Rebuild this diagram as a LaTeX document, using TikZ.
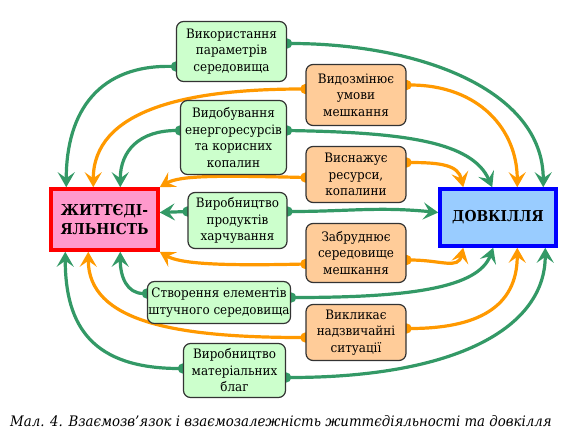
\documentclass[tikz,border=0pt]{standalone}
\usepackage{fontspec}
\setmainfont{DejaVu Serif}[FakeStretch=0.92]
\usetikzlibrary{arrows.meta,calc,backgrounds}
\definecolor{lnkgreen}{HTML}{339966}
\definecolor{lnkorange}{HTML}{FF9900}
\definecolor{boxgreen}{HTML}{CCFFCC}
\definecolor{boxorange}{HTML}{FFCC99}
\definecolor{lifepink}{HTML}{FF99CC}
\definecolor{envblue}{HTML}{99CCFF}
\tikzset{
  sbox/.style    = {draw=black!80, line width=1.2pt, rounded corners=7pt, align=center,
                    font=\fontsize{13}{16.5}\selectfont, inner sep=1pt},
  gbox/.style    = {sbox, fill=boxgreen},
  obox/.style    = {sbox, fill=boxorange, minimum width=100pt},
  mainbox/.style = {line width=3.5pt, align=center, font=\fontsize{15}{19}\selectfont\bfseries},
  link/.style    = {line width=3.2pt, shorten <=-5pt,
                    {Circle[length=10pt]}-{Stealth[length=15pt,width=17pt,inset=6pt]}},
  glink/.style   = {link, lnkgreen},
  olink/.style   = {link, lnkorange},
}
\begin{document}
\begin{tikzpicture}[x=1pt,y=-1pt]
  \useasboundingbox (0,0) rectangle (582,440);
  % the two main blocks
  \node[mainbox, draw=red, fill=lifepink, minimum width=107pt, minimum height=61pt]
    (life) at (104.5,219.5) {ЖИТТЄДІ-\\ЯЛЬНІСТЬ};
  \node[mainbox, draw=blue, fill=envblue, minimum width=116pt, minimum height=57pt]
    (env) at (498,217.5) {ДОВКІЛЛЯ};
  % green: what people do
  \node[gbox, minimum width=110pt, minimum height=60pt] (use)   at (231.5,51.5)  {Використання\\параметрів\\середовища};
  \node[gbox, minimum width=106pt, minimum height=74pt] (mine)  at (233.5,137.5) {Видобування\\енергоресурсів\\та корисних\\копалин};
  \node[gbox, minimum width=99pt,  minimum height=56pt] (food)  at (237.5,220.5) {Виробництво\\продуктів\\харчування};
  \node[gbox, minimum width=141pt, minimum height=42pt] (build) at (219,302.5)   {Створення елементів\\штучного середовища};
  \node[gbox, minimum width=102pt, minimum height=54pt] (goods) at (234.5,370.5) {Виробництво\\матеріальних\\благ};
  % orange: what it causes
  \node[obox, minimum height=61pt] (modify)  at (356,95)    {Видозмінює\\умови\\мешкання};
  \node[obox, minimum height=56pt] (deplete) at (356,174.5) {Виснажує\\ресурси,\\копалини};
  \node[obox, minimum height=59pt] (pollute) at (356,253)   {Забруднює\\середовище\\мешкання};
  \node[obox, minimum height=56pt] (emerg)   at (356,332.5) {Викликає\\надзвичайні\\ситуації};
  % links
  \begin{scope}[on background layer]
    \draw[glink] ($(use.west)+(0,15)$) .. controls +(-76,-2) and +(0,-77) .. ($(life.north west)+(17,0)$);
    \draw[glink] ($(use.east)+(0,-8)$) .. controls +(133,0) and +(0,-97) .. ($(env.north west)+(105,0)$);
    \draw[olink] ($(modify.west)+(0,-6)$) .. controls +(-120,0) and +(0,-77) .. ($(life.north west)+(44,0)$);
    \draw[olink] ($(modify.east)+(0,-10)$) .. controls +(73,0) and +(0,-57) .. ($(env.north west)+(79,0)$);
    \draw[glink] ($(mine.west)+(0,-7)$) .. controls +(-40,0) and +(0,-37) .. ($(life.north west)+(71,0)$);
    \draw[glink] ($(mine.east)+(0,-7)$) .. controls +(120,2) and +(-20,-45) .. ($(env.north west)+(54,0)$);
    \draw[olink] ($(deplete.west)+(0,3)$) .. controls +(-85,-2) and +(20,-12) .. (life.north east);
    \draw[olink] ($(deplete.east)+(0,-12)$) .. controls +(35,0) and +(-5,-22) .. ($(env.north west)+(25,0)$);
    \draw[glink] ($(food.west)+(0,-9)$) -- ($(life.east)+(0,-7)$);
    \draw[glink] ($(food.east)+(0,-9)$) .. controls +(60,0) and +(-60,-6) .. ($(env.west)+(0,-5)$);
    \draw[olink] ($(pollute.west)+(0,11)$) .. controls +(-85,2) and +(20,12) .. (life.south east);
    \draw[olink] ($(pollute.east)+(0,7)$) .. controls +(35,0) and +(-5,22) .. ($(env.south west)+(25,0)$);
    \draw[glink] ($(build.west)+(0,-9)$) .. controls +(-20,0) and +(0,25) .. ($(life.south west)+(71,0)$);
    \draw[glink] ($(build.east)+(0,-5)$) .. controls +(120,0) and +(-15,40) .. ($(env.south west)+(55,0)$);
    \draw[olink] ($(emerg.west)+(0,5)$) .. controls +(-130,0) and +(0,70) .. ($(life.south west)+(39,0)$);
    \draw[olink] ($(emerg.east)+(0,-4)$) .. controls +(70,0) and +(0,60) .. ($(env.south west)+(79,0)$);
    \draw[glink] ($(goods.west)+(0,-2)$) .. controls +(-90,0) and +(0,75) .. ($(life.south west)+(16,0)$);
    \draw[glink] ($(goods.east)+(0,7)$) .. controls +(170,0) and +(0,80) .. ($(env.south west)+(107,0)$);
  \end{scope}
  % caption
  \node[font=\fontsize{14.5}{17}\selectfont\itshape] (caption) at (281,421)
    {Мал. 4. Взаємозв’язок і взаємозалежність життєдіяльності та довкілля};
\end{tikzpicture}
\end{document}
